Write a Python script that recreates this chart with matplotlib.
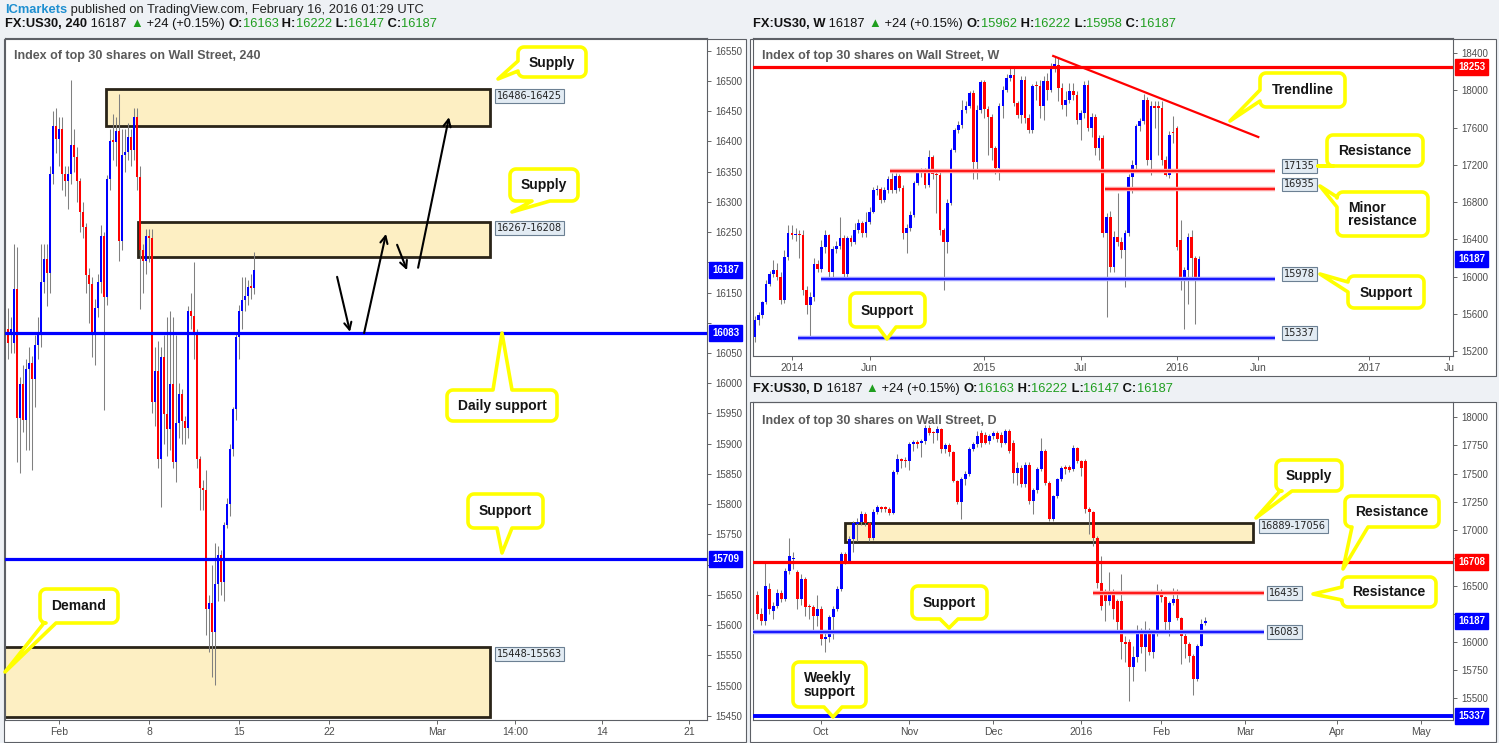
import numpy as np
import matplotlib
matplotlib.use("Agg")
import matplotlib.pyplot as plt
from matplotlib.patches import Rectangle, Polygon
from matplotlib.transforms import blended_transform_factory

W, H = 1499, 743
UP, DOWN, WICK = "#0000ff", "#ff0000", "#808080"
YEL = "#ffff00"
SANS = "Liberation Sans"
GREEN = "#1f9e1f"

# ---------------- 4H candles (x = candle number, Feb 1 open = 0) ----------------
h4_first = -17
h4_open = [16090, 16079, 16067, 16156, 15943, 15998, 15939, 16023, 16034, 16007,
           16064, 16079, 16167, 16205, 16182, 16346, 16425, 16404, 16420, 16346,
           16335, 16346, 16394, 16374, 16335, 16284, 16259, 16179, 16164, 16079,
           16125, 16167, 16243, 16143, 16338, 16401, 16399, 16417, 16236, 16378,
           16383, 16407, 16386, 16440, 16341, 16220, 16202, 16243, 16240, 15969,
           16021, 15875, 16043, 15949, 15924, 15998, 15869, 15934, 15982, 15938,
           15926, 16120, 16112, 16085, 15875, 15826, 15823, 15627, 15637, 15588,
           15668, 15716, 15672, 15765, 15801, 15892, 15957, 16076, 16120, 16138,
           16144, 16159, 16158]
h4_high = [16125, 16110, 16231, 16225, 16010, 16030, 16040, 16060, 16045, 16080,
           16110, 16231, 16231, 16231, 16360, 16450, 16456, 16440, 16440, 16360,
           16360, 16502, 16420, 16390, 16340, 16300, 16265, 16190, 16175, 16140,
           16180, 16261, 16250, 16345, 16420, 16445, 16440, 16478, 16420, 16420,
           16430, 16420, 16456, 16456, 16360, 16230, 16255, 16255, 16255, 16060,
           16070, 16060, 16080, 16110, 16120, 16110, 16080, 16000, 15990, 15945,
           16128, 16150, 16200, 16090, 15880, 15840, 15857, 15650, 15700, 15736,
           15730, 15725, 15770, 15810, 15900, 15960, 16085, 16130, 16175, 16175,
           16170, 16180, 16217]
h4_low = [16040, 16050, 16050, 15870, 15851, 15920, 15890, 15890, 15857, 15960,
          16040, 16060, 16150, 16128, 16150, 16330, 16380, 16360, 16320, 16309,
          16289, 16330, 16350, 16300, 16250, 16240, 16150, 16100, 16043, 16030,
          16110, 16150, 15956, 16130, 16320, 16370, 16360, 16202, 16220, 16350,
          16370, 16360, 16370, 16320, 16122, 16150, 16180, 16200, 15950, 15930,
          15860, 15796, 15900, 15880, 15890, 15860, 15837, 15910, 15900, 15900,
          15910, 16090, 16040, 15860, 15790, 15790, 15583, 15555, 15514, 15501,
          15640, 15650, 15640, 15760, 15780, 15880, 15940, 16040, 16090, 16120,
          16130, 16140, 16147]
h4_close = [16067, 16090, 16156, 15943, 15998, 15939, 16023, 16034, 16007, 16064,
            16079, 16167, 16205, 16182, 16346, 16425, 16404, 16420, 16346, 16335,
            16346, 16394, 16374, 16335, 16284, 16259, 16179, 16164, 16079, 16125,
            16167, 16243, 16143, 16338, 16401, 16399, 16417, 16236, 16378, 16383,
            16407, 16386, 16440, 16341, 16220, 16202, 16243, 16240, 15969, 16021,
            15875, 16043, 15949, 15924, 15998, 15869, 15934, 15982, 15938, 15926,
            16120, 16112, 16085, 15875, 15826, 15823, 15627, 15637, 15588, 15668,
            15716, 15672, 15765, 15801, 15892, 15957, 16076, 16120, 16138, 16144,
            16159, 16158, 16187]
h4_ticks = [0, 30, 60, 90, 126, 152, 181, 210]
h4_labels = ["Feb", "8", "15", "22", "Mar", "14:00", "14", "21"]
h4_yticks = list(range(15450, 16551, 50))

# ---------------- weekly candles (x = week number, week of Jan 4 2016 = 0) ----------------
wk_first = -114
wk_open = [15351, 15530, 15584, 15727, 15925, 16032, 16068, 15996, 15745, 16212,
           16463, 16445, 16460, 16445, 15853, 15692, 15781, 16140, 16086, 16319,
           16445, 16050, 16301, 16330, 16416, 16032, 16416, 16373, 16499, 16571,
           16470, 16589, 16696, 16929, 16940, 16822, 16929, 17044, 16929, 17080,
           16947, 16470, 16517, 16660, 17008, 17116, 17130, 16983, 17281, 17102,
           17090, 16499, 16373, 16793, 17360, 17568, 17629, 17791, 17834, 17970,
           17234, 17791, 18085, 17798, 17712, 17378, 17163, 17834, 18006, 18131,
           18160, 17862, 17737, 18113, 17701, 17575, 18049, 18042, 17826, 18095,
           18006, 18264, 18275, 18024, 17844, 17898, 17988, 17952, 17683, 17755,
           18060, 17593, 17712, 17378, 17486, 16463, 16642, 16104, 16427, 16373,
           16284, 16463, 17073, 17199, 17611, 17672, 17898, 17252, 17834, 17830,
           17808, 17252, 17091, 17557, 17593, 16391, 15978, 16068, 16427, 16194,
           15962]
wk_high = [15580, 15620, 15740, 15960, 16060, 16176, 16150, 16050, 16280, 16550,
           16550, 16520, 16500, 16500, 15900, 15830, 16200, 16180, 16390, 16500,
           16460, 16330, 16380, 16642, 16450, 16440, 16450, 16571, 16620, 16600,
           16696, 16750, 16965, 16980, 16960, 16960, 17080, 17116, 17116, 17100,
           16980, 16560, 16700, 17030, 17140, 17160, 17160, 17360, 17300, 17150,
           17120, 16520, 16830, 17380, 17600, 17670, 17898, 17880, 17990, 18000,
           17840, 18110, 18110, 17830, 17740, 17400, 17860, 18050, 18170, 18257,
           18257, 17880, 18150, 18150, 17750, 18070, 18100, 18110, 18150, 18185,
           18290, 18365, 18350, 18080, 17990, 18080, 18080, 17990, 17790, 18100,
           18110, 17760, 17740, 17520, 17520, 16680, 16700, 16490, 16900, 16420,
           16500, 17100, 17250, 17640, 17700, 17960, 17930, 17880, 17880, 17890,
           17880, 17290, 17560, 17720, 17620, 16606, 16100, 16470, 16499, 16220,
           16222]
wk_low = [15300, 15480, 15560, 15700, 15900, 16000, 15960, 15709, 15720, 16180,
          16400, 16380, 16200, 15800, 15600, 15333, 15740, 16050, 16050, 16250,
          15996, 16000, 16250, 16300, 15990, 15996, 16330, 16350, 16470, 16420,
          16420, 16560, 16680, 16880, 16790, 16800, 16900, 16900, 16900, 16920,
          16400, 16248, 16490, 16640, 16980, 17070, 16950, 16960, 17050, 16678,
          16450, 15853, 16248, 16770, 17340, 17540, 17600, 17760, 17810, 17044,
          17050, 17760, 17700, 17300, 17252, 17100, 17037, 17700, 17980, 18100,
          17830, 17700, 17650, 17650, 17540, 17540, 17900, 17700, 17683, 17900,
          17980, 18200, 17880, 17800, 17720, 17860, 17900, 17640, 17468, 17700,
          17560, 17500, 17300, 17250, 16420, 15566, 16050, 16050, 16330, 16200,
          15889, 16440, 16893, 17150, 17560, 17640, 17200, 17091, 17600, 17300,
          17200, 17080, 17060, 17430, 16290, 15853, 15440, 15709, 16000, 15494,
          15958]
wk_close = [15537, 15584, 15727, 15925, 16032, 16068, 15996, 15745, 16212, 16463,
            16445, 16460, 16445, 15853, 15692, 15781, 16140, 16086, 16319, 16445,
            16050, 16301, 16330, 16416, 16032, 16416, 16373, 16499, 16571, 16470,
            16589, 16696, 16929, 16940, 16822, 16929, 17044, 16929, 17080, 16947,
            16470, 16517, 16660, 17008, 17116, 17130, 16983, 17281, 17102, 17090,
            16499, 16373, 16793, 17360, 17568, 17629, 17791, 17834, 17970, 17234,
            17791, 18085, 17798, 17712, 17378, 17163, 17834, 18006, 18131, 18160,
            17862, 17737, 18113, 17701, 17575, 18049, 18042, 17826, 18095, 18006,
            18264, 18275, 18024, 17844, 17898, 17988, 17952, 17683, 17755, 18060,
            17593, 17712, 17378, 17486, 16463, 16642, 16104, 16427, 16373, 16284,
            16463, 17073, 17199, 17611, 17672, 17898, 17252, 17834, 17812, 17808,
            17252, 17091, 17521, 17539, 16319, 15978, 16068, 16427, 16194, 15961,
            16187]
wk_ticks = [-104, -83, -52, -26, 0, 22, 52, 73.5]
wk_labels = ["2014", "Jun", "2015", "Jul", "2016", "Jun", "2017", "Ju"]
wk_yticks = list(range(15200, 18401, 400))

# ---------------- daily candles (x = trading day, Feb 1 2016 = 0) ----------------
dy_first = -101
dy_open = [16420, 16250, 16186, 16468, 16275, 16320, 16438, 16379, 16631, 16735,
           16622, 16379, 16563, 16310, 16305, 16231, 16290, 16023, 16038, 16216,
           16290, 16474, 16780, 16720, 16913, 17047, 17068, 17136, 17056, 16928,
           17157, 17195, 17195, 17186, 17151, 17513, 17626, 17620, 17611, 17759,
           17780, 17774, 17789, 17908, 17863, 17863, 17893, 17715, 17750, 17691,
           17433, 17246, 17453, 17498, 17721, 17759, 17863, 17848, 17789, 17833,
           17863, 17848, 17774, 17878, 17774, 17507, 17551, 17403, 17572, 17255,
           17353, 17537, 17700, 17418, 17091, 17299, 17448, 17560, 17560, 17537,
           17730, 17611, 17611, 17180, 17157, 16928, 16522, 16438, 16364, 16438,
           16364, 16364, 15993, 15993, 15771, 15860, 16097, 15949, 16097, 15904,
           16068, 16438, 16394, 16171, 16344, 16379, 16207, 16047, 15978, 15875,
           15667, 15964, 16163]
dy_high = [16450, 16300, 16706, 16520, 16350, 16470, 16460, 16660, 16928, 16800,
           16640, 16600, 16580, 16340, 16330, 16420, 16320, 16080, 16240, 16320,
           16500, 16800, 16800, 16940, 17080, 17100, 17170, 17160, 17070, 17180,
           17220, 17210, 17210, 17200, 17530, 17670, 17640, 17650, 17780, 17800,
           17800, 17810, 17930, 17930, 17880, 17920, 17910, 17770, 17770, 17700,
           17440, 17470, 17520, 17740, 17780, 17880, 17890, 17870, 17850, 17880,
           17880, 17870, 17900, 17900, 17800, 17600, 17580, 17600, 17600, 17370,
           17560, 17819, 17720, 17430, 17310, 17460, 17570, 17580, 17580, 17750,
           17740, 17620, 17630, 17200, 17170, 16940, 16765, 16470, 16622, 16470,
           16380, 16600, 16050, 16020, 15960, 16150, 16120, 16180, 16120, 16100,
           16513, 16470, 16410, 16360, 16483, 16468, 16220, 16080, 16000, 15890,
           15980, 16200, 16222]
dy_low = [16200, 16150, 16150, 16250, 16201, 16300, 16350, 16360, 16600, 16650,
          16290, 16330, 16230, 16200, 16080, 16140, 15970, 15910, 16000, 16023,
          16270, 16450, 16690, 16700, 16800, 16900, 17040, 17030, 16900, 16910,
          17140, 17160, 17160, 17130, 17140, 17500, 17550, 17560, 17530, 17700,
          17730, 17650, 17760, 17840, 17774, 17800, 17680, 17680, 17660, 17420,
          17230, 17097, 17400, 17480, 17700, 17740, 17740, 17760, 17760, 17810,
          17780, 17740, 17760, 17680, 17418, 17400, 17380, 17380, 17230, 17136,
          17330, 17520, 17400, 17080, 17080, 17280, 17430, 17500, 17510, 17520,
          17590, 17480, 17150, 16960, 16850, 16480, 16280, 16180, 16330, 16200,
          16100, 15845, 15820, 15474, 15652, 15820, 15900, 15741, 15880, 15850,
          16050, 16350, 16100, 16050, 16330, 16190, 15800, 15850, 15820, 15520,
          15650, 15960, 16147]
dy_close = [16250, 16186, 16498, 16290, 16320, 16438, 16379, 16631, 16765, 16750,
            16379, 16563, 16305, 16305, 16231, 16290, 16023, 16038, 16216, 16290,
            16474, 16780, 16720, 16913, 17056, 17068, 17136, 17056, 16928, 17157,
            17204, 17186, 17186, 17151, 17513, 17626, 17611, 17611, 17759, 17780,
            17759, 17789, 17908, 17863, 17857, 17893, 17715, 17750, 17691, 17433,
            17246, 17453, 17498, 17721, 17759, 17833, 17774, 17774, 17833, 17863,
            17804, 17774, 17878, 17700, 17507, 17551, 17403, 17572, 17255, 17353,
            17537, 17700, 17418, 17091, 17299, 17448, 17551, 17537, 17534, 17730,
            17611, 17551, 17180, 17157, 16928, 16522, 16320, 16364, 16438, 16290,
            16171, 15993, 15978, 15771, 15860, 16097, 15949, 16097, 15904, 16068,
            16438, 16394, 16171, 16344, 16379, 16207, 16047, 15978, 15875, 15667,
            15964, 16157, 16187]
dy_ticks = [-85, -63, -42, -20, 0, 21, 44, 65]
dy_labels = ["Oct", "Nov", "Dec", "2016", "Feb", "Mar", "Apr", "May"]
dy_yticks = list(range(15500, 18001, 250))

# ---------------- levels / zones ----------------
h4_supply_top = (16425, 16486)
h4_supply_low = (16208, 16267)
h4_demand = (15448, 15563)
h4_daily_support = 16083
h4_support = 15709
wk_resistance_top = 18253
wk_resistance = 17135
wk_minor_resistance = 16935
wk_support = 15978
wk_support_low = 15337
wk_trend_x = [-33.4, 22]
wk_trend_y = [18368, 17498]
dy_supply = (16889, 17056)
dy_resistance = 16708
dy_resistance_low = 16435
dy_support = 16083
dy_weekly_support = 15337
last_price = 16187

# arrows on the 4H chart: (x0, y0, x1, y1)
h4_arrows = [(92.7, 16176, 97, 16085), (101.7, 16083, 109, 16247),
             (112.7, 16229, 116, 16187), (119.7, 16191, 130, 16440)]

fig = plt.figure(figsize=(W / 100, H / 100), dpi=100, facecolor="#eef1f5")


def add_ax(x0, y0, x1, y1, z=0):
    return fig.add_axes([x0 / W, 1 - y1 / H, (x1 - x0) / W, (y1 - y0) / H], zorder=z)


bg = add_ax(0, 0, W, H, z=-5)
bg.set_xlim(0, W); bg.set_ylim(H, 0); bg.axis("off")
for (x0, y0, x1, y1) in [(4.5, 38.5, 746.5, 741.5), (750.5, 38.5, 1496.5, 375.5),
                         (750.5, 401.5, 1496.5, 741.5)]:
    bg.add_patch(Rectangle((x0, y0), x1 - x0, y1 - y0, fc="white", ec="none"))


def draw_candles(ax, first, o, h, l, c, width, min_body):
    o, h, l, c = (np.array(a, float) for a in (o, h, l, c))
    x = first + np.arange(len(o))
    ax.vlines(x, l, h, color=WICK, lw=0.75, zorder=2)
    body = np.maximum(np.abs(c - o), min_body)
    ax.bar(x, body, bottom=np.minimum(o, c), width=width,
           color=np.where(c >= o, UP, DOWN), lw=0, zorder=3)


def style(ax, xlim, ylim, yticks, xticks, xlabels, tags):
    ax.set_xlim(*xlim)
    ax.set_ylim(*ylim)
    ax.yaxis.tick_right()
    ax.set_yticks(yticks)
    # price tags on the axis hide the tick labels right under them
    py = ax.transData.transform(np.column_stack([np.zeros(len(yticks)), yticks]))[:, 1]
    pt = ax.transData.transform(np.column_stack([np.zeros(len(tags)), tags]))[:, 1]
    ax.set_yticklabels([str(v) if np.all(np.abs(pt - p) > 11) else ""
                        for v, p in zip(yticks, py)])
    ax.set_xticks(xticks)
    ax.set_xticklabels(xlabels)
    ax.tick_params(axis="y", length=3, width=0.7, color="#666666", pad=3,
                   labelsize=7, labelcolor="#4d4d4d")
    ax.tick_params(axis="x", length=3, width=0.7, color="#666666", pad=2,
                   labelsize=7.5, labelcolor="#4d4d4d")
    for lab in ax.get_xticklabels() + ax.get_yticklabels():
        lab.set_fontfamily(SANS)
    for s in ax.spines.values():
        s.set_color("#5d6066")
        s.set_linewidth(0.8)


def tag(ax, value, color):
    tr = blended_transform_factory(ax.transAxes, ax.transData)
    ax.annotate(str(value), xy=(1, value), xycoords=tr, xytext=(5, 0),
                textcoords="offset pixels", ha="left", va="center", fontsize=7,
                fontweight="bold", color="white", family=SANS,
                bbox=dict(boxstyle="square,pad=0.3", fc=color, ec=color),
                annotation_clip=False, zorder=8)


def zlabel(ax, x, y, text, va="center"):
    ax.text(x, y, text, ha="left", va=va, fontsize=7, color="#222222",
            family="DejaVu Sans", clip_on=False, zorder=8,
            bbox=dict(boxstyle="square,pad=0.2", fc="#e2ebf3", ec="#6c8093", lw=0.8))


def zone(ax, x0, x1, lo, hi):
    ax.add_patch(Rectangle((x0, lo), x1 - x0, hi - lo, fc="#fdefc3",
                           ec="#2a2418", lw=2.0, zorder=1))


def glow_line(ax, x0, x1, y, color, glow):
    ax.plot([x0, x1], [y, y], color=glow, lw=3.2, solid_capstyle="butt", zorder=4)
    ax.plot([x0, x1], [y, y], color=color, lw=1.2, solid_capstyle="butt", zorder=4)


# ---------------- 4H panel ----------------
a1 = add_ax(5, 38, 707, 720)
style(a1, (-18, 216), (15443, 16571), h4_yticks, h4_ticks, h4_labels,
      [last_price, h4_daily_support, h4_support])
zone(a1, 15.7, 143.7, *h4_supply_top)
zone(a1, 26.3, 143.7, *h4_supply_low)
zone(a1, -19, 143.7, *h4_demand)
draw_candles(a1, h4_first, h4_open, h4_high, h4_low, h4_close, 0.85, 2.5)
a1.axhline(h4_daily_support, color=UP, lw=2.3, zorder=4)
a1.axhline(h4_support, color=UP, lw=2.3, zorder=4)
for (x0, y0, x1, y1) in h4_arrows:
    a1.annotate("", xy=(x1, y1), xytext=(x0, y0), zorder=6,
                arrowprops=dict(arrowstyle="->", color="black", lw=1.5,
                                mutation_scale=13, shrinkA=0, shrinkB=0))
zlabel(a1, 146, h4_supply_top[1] - 2, "16486-16425", va="top")
zlabel(a1, 146, h4_supply_low[1] - 2, "16267-16208", va="top")
zlabel(a1, 146, h4_demand[1] - 2, "15448-15563", va="top")
tag(a1, last_price, UP)
tag(a1, h4_daily_support, UP)
tag(a1, h4_support, UP)

# ---------------- weekly panel ----------------
a2 = add_ax(753, 38, 1453, 356)
style(a2, (-114.5, 74.6), (15147, 18561), wk_yticks, wk_ticks, wk_labels,
      [wk_resistance_top, last_price])
draw_candles(a2, wk_first, wk_open, wk_high, wk_low, wk_close, 0.72, 15)
a2.axhline(wk_resistance_top, color=DOWN, lw=2.3, zorder=4)
a2.plot(wk_trend_x, wk_trend_y, color=DOWN, lw=1.6, zorder=4)
glow_line(a2, -77.5, 26.6, wk_resistance, DOWN, "#ff9c9c")
glow_line(a2, -19.4, 26.6, wk_minor_resistance, DOWN, "#ff9c9c")
glow_line(a2, -96.2, 26.6, wk_support, UP, "#9c9cff")
glow_line(a2, -102.4, 26.6, wk_support_low, UP, "#9c9cff")
for v in (wk_resistance, wk_minor_resistance, wk_support, wk_support_low):
    zlabel(a2, 29, v, str(v), va="bottom")
tag(a2, wk_resistance_top, DOWN)
tag(a2, last_price, UP)

# ---------------- daily panel ----------------
a3 = add_ax(753, 402, 1453, 720)
style(a3, (-102, 73), (15301, 18138), dy_yticks, dy_ticks, dy_labels,
      [dy_resistance, last_price, dy_weekly_support])
zone(a3, -79, 23, *dy_supply)
draw_candles(a3, dy_first, dy_open, dy_high, dy_low, dy_close, 0.75, 12)
a3.axhline(dy_resistance, color=DOWN, lw=2.3, zorder=4)
a3.axhline(dy_weekly_support, color=UP, lw=2.8, zorder=4)
glow_line(a3, -17, 25.75, dy_resistance_low, DOWN, "#ff9c9c")
glow_line(a3, -103, 25.75, dy_support, UP, "#9c9cff")
zlabel(a3, 25, dy_supply[1] + 20, "16889-17056", va="top")
zlabel(a3, 27, dy_resistance_low, str(dy_resistance_low))
zlabel(a3, 27, dy_support, str(dy_support))
tag(a3, dy_resistance, DOWN)
tag(a3, last_price, UP)
tag(a3, dy_weekly_support, UP)

# ---------------- overlay: frames, headers, callouts ----------------
ov = add_ax(0, 0, W, H, z=10)
ov.set_xlim(0, W); ov.set_ylim(H, 0); ov.axis("off")
for (x0, y0, x1, y1) in [(4.5, 38.5, 746.5, 741.5), (750.5, 38.5, 1496.5, 375.5),
                         (750.5, 401.5, 1496.5, 741.5)]:
    ov.add_patch(Rectangle((x0, y0), x1 - x0, y1 - y0, fc="none", ec="#5d6066", lw=0.8))

rend = fig.canvas.get_renderer()


def rich(x, y, parts, size=9.3):
    for s, color, weight in parts:
        t = ov.text(x, y, s, color=color, fontsize=size, fontweight=weight,
                    va="center", ha="left", family=[SANS, "DejaVu Sans"])
        x += t.get_window_extent(renderer=rend).width


def header(x, y, tf, o, h, l, c):
    rich(x, y, [("FX:US30, " + tf, "#111111", "bold"), (" 16187 ", "#111111", "normal"),
                ("\u25b2", GREEN, "normal"), (" +24 (+0.15%) ", "#111111", "normal"),
                ("O:", "#111111", "bold"), (o, GREEN, "normal"),
                (" H:", "#111111", "bold"), (h, GREEN, "normal"),
                (" L:", "#111111", "bold"), (l, GREEN, "normal"),
                (" C:", "#111111", "bold"), (c, GREEN, "normal")])


rich(5, 10, [("ICmarkets", "#1e8fd0", "bold"),
             (" published on TradingView.com, February 16, 2016 01:29 UTC", "#222222", "normal")])
header(5, 24, "240", "16163", "16222", "16147", "16187")
header(753, 24, "W", "15962", "16222", "15958", "16187")
header(753, 389, "D", "16163", "16222", "16147", "16187")

for (x, y, s) in [(14, 56, "Index of top 30 shares on Wall Street, 240"),
                  (762, 56, "Index of top 30 shares on Wall Street, W"),
                  (762, 421, "Index of top 30 shares on Wall Street, D")]:
    ov.text(x, y, s, fontsize=9, fontweight="bold", color="#5a5a5a", family=SANS,
            va="center", ha="left")


def callout_outline(x0, y0, x1, y1, edge, a, b, tip, r=6):
    def arc(cx, cy, t0, t1):
        t = np.radians(np.linspace(t0, t1, 7))
        return list(zip(cx + r * np.cos(t), cy + r * np.sin(t)))
    segs = {"top": [(x0 + r, y0), (x1 - r, y0)], "right": [(x1, y0 + r), (x1, y1 - r)],
            "bottom": [(x1 - r, y1), (x0 + r, y1)], "left": [(x0, y1 - r), (x0, y0 + r)]}
    base = {"top": [(a, y0), tip, (b, y0)], "right": [(x1, a), tip, (x1, b)],
            "bottom": [(a, y1), tip, (b, y1)], "left": [(x0, a), tip, (x0, b)]}[edge]
    segs[edge] = [segs[edge][0]] + base + [segs[edge][1]]
    return (segs["top"] + arc(x1 - r, y0 + r, -90, 0) + segs["right"]
            + arc(x1 - r, y1 - r, 0, 90) + segs["bottom"] + arc(x0 + r, y1 - r, 90, 180)
            + segs["left"] + arc(x0 + r, y0 + r, 180, 270))


callouts = [
    (518, 47, 586, 77, "left", 71, 61, (498, 79), "Supply"),
    (510, 169, 578, 201, "bottom", 550, 532, (512, 212), "Supply"),
    (447, 390, 557, 421, "top", 493, 512, (502, 333), "Daily support"),
    (468, 494, 543, 528, "bottom", 512, 497, (502, 553), "Support"),
    (40, 589, 118, 623, "bottom", 56, 44, (5, 672), "Demand"),
    (1260, 73, 1345, 107, "left", 101, 90, (1230, 121), "Trendline"),
    (1327, 135, 1423, 166, "bottom", 1345, 1333, (1318, 166), "Resistance"),
    (1337, 192, 1428, 236, "left", 207, 197, (1320, 186), "Minor\nresistance"),
    (1348, 276, 1424, 308, "left", 292, 282, (1320, 274), "Support"),
    (850, 293, 925, 327, "bottom", 896, 878, (887, 339), "Support"),
    (1276, 460, 1342, 491, "bottom", 1292, 1280, (1256, 518), "Supply"),
    (1345, 496, 1439, 527, "bottom", 1368, 1352, (1343, 569), "Resistance"),
    (1342, 577, 1436, 607, "left", 600, 587, (1313, 594), "Resistance"),
    (912, 586, 987, 619, "bottom", 958, 940, (949, 628), "Support"),
    (793, 662, 866, 707, "bottom", 842, 824, (833, 717), "Weekly\nsupport"),
]
for (x0, y0, x1, y1, edge, a, b, tip, s) in callouts:
    pts = callout_outline(x0, y0, x1, y1, edge, a, b, tip)
    ov.add_patch(Polygon(pts, closed=True, fc="white", ec=YEL, lw=2.6, joinstyle="round"))
    ov.text((x0 + x1) / 2, (y0 + y1) / 2 + 0.5, s, fontsize=10, fontweight="bold",
            color="#151515", family=SANS, ha="center", va="center",
            multialignment="left", linespacing=0.95)

fig.savefig("out.png", dpi=100, facecolor=fig.get_facecolor())
